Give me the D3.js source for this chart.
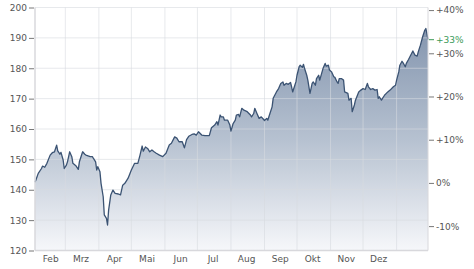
<!DOCTYPE html>
<html>
<head>
<meta charset="utf-8">
<script src="https://cdn.jsdelivr.net/npm/d3@7"></script>
<style>
  body { margin: 0; background: #fff; }
  svg { display: block; font-family: "DejaVu Sans", Verdana, sans-serif; }
</style>
</head>
<body>
<div id="chart"></div>
<script>
// Kursverlauf 1 Jahr
const startDate = new Date(2025, 1, 1)
const endDate = new Date(2026, 0, 30)
const basePrice = 142.25

const dayOffsets = [0, 1, 3, 6, 7, 9, 11, 14, 16, 18, 20, 21, 23, 24, 26, 27, 29, 30, 32, 34,
  35, 38, 40, 41, 44, 46, 47, 51, 53, 54, 56, 57, 58, 60, 61, 63, 64, 66, 67, 68,
  70, 72, 74, 77, 79, 81, 83, 86, 89, 92, 95, 97, 99, 100, 102, 104, 106, 108, 110, 112,
  115, 118, 121, 124, 126, 129, 131, 133, 136, 138, 140, 142, 145, 147, 149, 151, 154, 157, 161, 163,
  166, 168, 169, 171, 172, 174, 175, 178, 180, 181, 183, 185, 186, 188, 189, 191, 193, 196, 199, 200,
  202, 203, 205, 207, 209, 211, 212, 214, 215, 217, 219, 220, 223, 225, 227, 229, 230, 232, 234, 236,
  237, 238, 240, 241, 242, 244, 245, 247, 248, 249, 251, 252, 254, 256, 257, 259, 260, 262, 263, 266,
  268, 269, 271, 272, 274, 276, 277, 279, 280, 281, 283, 285, 286, 289, 290, 292, 293, 295, 296, 299,
  301, 303, 305, 307, 308, 310, 312, 314, 316, 317, 318, 320, 321, 323, 325, 328, 331, 333, 334, 336,
  337, 339, 340, 342, 343, 345, 347, 349, 351, 353, 354, 356, 358, 360, 361, 362, 363]

const prices = [142.5, 143.4, 145.4, 147.0, 147.8, 147.4, 148.7, 151.4, 152.2, 152.5, 154.7, 152.8, 151.7, 152.3, 149.8, 147.0, 148.1, 149.2, 152.5, 150.9,
  148.7, 147.8, 146.7, 149.2, 152.5, 151.7, 151.4, 150.9, 150.9, 150.3, 149.2, 146.5, 147.6, 145.9, 142.1, 137.7, 131.7, 130.6, 128.4, 133.3,
  138.3, 139.9, 138.8, 138.6, 138.3, 141.5, 142.1, 143.8, 146.5, 148.7, 148.7, 151.4, 154.4, 152.7, 154.1, 153.6, 152.5, 153.1, 152.5, 152.0,
  151.4, 150.9, 152.0, 154.7, 155.3, 157.4, 157.0, 155.8, 155.8, 153.8, 156.5, 157.6, 158.2, 158.4, 158.0, 159.1, 158.0, 157.8, 157.8, 160.4,
  161.3, 162.4, 161.3, 164.6, 164.0, 164.0, 162.9, 162.9, 161.3, 159.3, 161.8, 162.9, 164.6, 164.8, 164.0, 166.8, 166.2, 165.7, 164.6, 164.0,
  165.1, 166.8, 165.1, 163.5, 164.0, 163.2, 162.8, 163.5, 162.9, 165.1, 167.3, 170.1, 172.2, 173.3, 175.0, 175.5, 174.4, 175.0, 174.7, 175.3,
  173.9, 172.2, 174.4, 175.5, 177.7, 180.5, 181.0, 180.3, 181.3, 179.9, 177.7, 176.1, 171.7, 175.0, 175.5, 174.4, 176.6, 177.7, 176.1, 179.9,
  181.6, 180.7, 181.0, 179.4, 178.8, 177.2, 177.0, 175.5, 175.0, 176.6, 176.6, 176.1, 172.2, 171.7, 169.5, 170.1, 165.7, 167.9, 169.5, 172.2,
  172.8, 173.3, 173.0, 175.0, 173.9, 173.0, 173.3, 172.8, 173.0, 170.1, 170.6, 169.5, 170.1, 171.2, 171.9, 172.8, 173.9, 174.4, 176.1, 178.8,
  181.0, 182.3, 181.8, 180.5, 181.6, 182.9, 184.3, 185.7, 184.3, 184.0, 185.4, 187.6, 190.3, 192.5, 193.1, 191.4, 189.4]

const yTicks = [120, 130, 140, 150, 160, 170, 180, 190, 200]
const pctTicks = [-10, 0, 10, 20, 30, 40]
const monthLabels = ["Feb", "Mrz", "Apr", "Mai", "Jun", "Jul", "Aug", "Sep", "Okt", "Nov", "Dez"]

const W = 474, H = 269
const MARGIN = { LEFT: 35, RIGHT: 46, TOP: 7.5, BOTTOM: 18.5 }
const WIDTH = W - MARGIN.LEFT - MARGIN.RIGHT
const HEIGHT = H - MARGIN.TOP - MARGIN.BOTTOM

const data = dayOffsets.map((d, i) => ({ date: d3.timeDay.offset(startDate, d), price: prices[i] }))

const svg = d3.select("#chart").append("svg")
  .attr("width", W)
  .attr("height", H)

const g = svg.append("g")
  .attr("transform", `translate(${MARGIN.LEFT}, ${MARGIN.TOP})`)

const x = d3.scaleTime()
  .domain([startDate, endDate])
  .range([0, WIDTH])

const y = d3.scaleLinear()
  .domain([d3.min(yTicks), d3.max(yTicks)])
  .range([HEIGHT, 0])

const yPct = d3.scaleLinear()
  .domain(y.domain().map(v => (v / basePrice - 1) * 100))
  .range([HEIGHT, 0])

// gradient for the area
const grad = svg.append("defs").append("linearGradient")
  .attr("id", "areaGrad")
  .attr("gradientUnits", "userSpaceOnUse")
  .attr("x1", 0).attr("x2", 0)
  .attr("y1", 0).attr("y2", HEIGHT)
grad.append("stop").attr("offset", "0%").attr("stop-color", "#7a8da8")
grad.append("stop").attr("offset", "55%").attr("stop-color", "#b7c2d1")
grad.append("stop").attr("offset", "100%").attr("stop-color", "#f6f7fa")

const area = d3.area()
  .x(d => x(d.date))
  .y0(HEIGHT)
  .y1(d => y(d.price))

const line = d3.line()
  .x(d => x(d.date))
  .y(d => y(d.price))

g.append("path")
  .datum(data)
  .attr("d", area)
  .attr("fill", "url(#areaGrad)")

// grid
const monthStarts = d3.timeMonth.range(d3.timeMonth.offset(startDate, 1), endDate)
g.append("g").selectAll("line")
  .data(monthStarts)
  .enter().append("line")
  .attr("x1", d => x(d)).attr("x2", d => x(d))
  .attr("y1", 0).attr("y2", HEIGHT)
  .attr("stroke", "rgba(215,218,224,0.6)")
  .attr("stroke-width", 1)

g.append("g").selectAll("line")
  .data(yTicks)
  .enter().append("line")
  .attr("x1", 0).attr("x2", WIDTH)
  .attr("y1", d => y(d)).attr("y2", d => y(d))
  .attr("stroke", "rgba(215,218,224,0.6)")
  .attr("stroke-width", 1)

g.append("path")
  .datum(data)
  .attr("d", line)
  .attr("fill", "none")
  .attr("stroke", "#3b5373")
  .attr("stroke-width", 1.3)
  .attr("stroke-linejoin", "round")

// frame lines
g.append("line").attr("x1", 0).attr("x2", 0).attr("y1", 0).attr("y2", HEIGHT)
  .attr("stroke", "#d8d8dc").attr("stroke-width", 1.5)
g.append("line").attr("x1", WIDTH).attr("x2", WIDTH).attr("y1", 0).attr("y2", HEIGHT)
  .attr("stroke", "#d8d8dc").attr("stroke-width", 1)
g.append("line").attr("x1", 0).attr("x2", WIDTH).attr("y1", HEIGHT).attr("y2", HEIGHT)
  .attr("stroke", "#d8d8dc").attr("stroke-width", 1.5)

// left axis
const yAxisCall = d3.axisLeft(y)
  .tickValues(yTicks)
  .tickSize(5)
  .tickPadding(2)
g.append("g")
  .attr("class", "y axis")
  .attr("transform", "translate(-1, 0)")
  .call(yAxisCall)
  .call(a => a.select(".domain").remove())
  .call(a => a.selectAll("line").attr("stroke", "#777"))
  .call(a => a.selectAll("text").attr("fill", "#555").attr("font-size", "9px")
    .attr("font-family", "DejaVu Sans"))

// right axis
const pctAxisCall = d3.axisRight(yPct)
  .tickValues(pctTicks)
  .tickSize(5)
  .tickPadding(2)
  .tickFormat(d => (d > 0 ? "+" : "") + d + "%")
g.append("g")
  .attr("class", "y axis")
  .attr("transform", `translate(${WIDTH + 1}, 0)`)
  .call(pctAxisCall)
  .call(a => a.select(".domain").remove())
  .call(a => a.selectAll("line").attr("stroke", "#777"))
  .call(a => a.selectAll("text").attr("fill", "#555").attr("font-size", "9px")
    .attr("font-family", "DejaVu Sans"))

// last value marker
const last = data[data.length - 1]
const lastPct = (last.price / basePrice - 1) * 100
const lastG = g.append("g")
  .attr("transform", `translate(${WIDTH + 1}, ${y(last.price)})`)
lastG.append("line").attr("x1", 0).attr("x2", 5)
  .attr("stroke", "#3a9a58")
lastG.append("text")
  .attr("x", 7)
  .attr("dy", "0.32em")
  .attr("fill", "#3a9a58")
  .attr("font-size", "9px")
  .text((lastPct > 0 ? "+" : "") + d3.format(".0f")(lastPct) + "%")

// month labels
const xAxisCall = d3.axisBottom(x)
  .tickValues(d3.timeMonth.range(startDate, d3.timeMonth.offset(startDate, monthLabels.length))
    .map(d => d3.timeDay.offset(d, 14)))
  .tickSize(0)
  .tickPadding(5)
  .tickFormat((d, i) => monthLabels[i])
g.append("g")
  .attr("class", "x axis")
  .attr("transform", `translate(0, ${HEIGHT})`)
  .call(xAxisCall)
  .call(a => a.select(".domain").remove())
  .call(a => a.selectAll("text").attr("fill", "#555").attr("font-size", "9px")
    .attr("font-family", "DejaVu Sans"))
</script>
</body>
</html>
